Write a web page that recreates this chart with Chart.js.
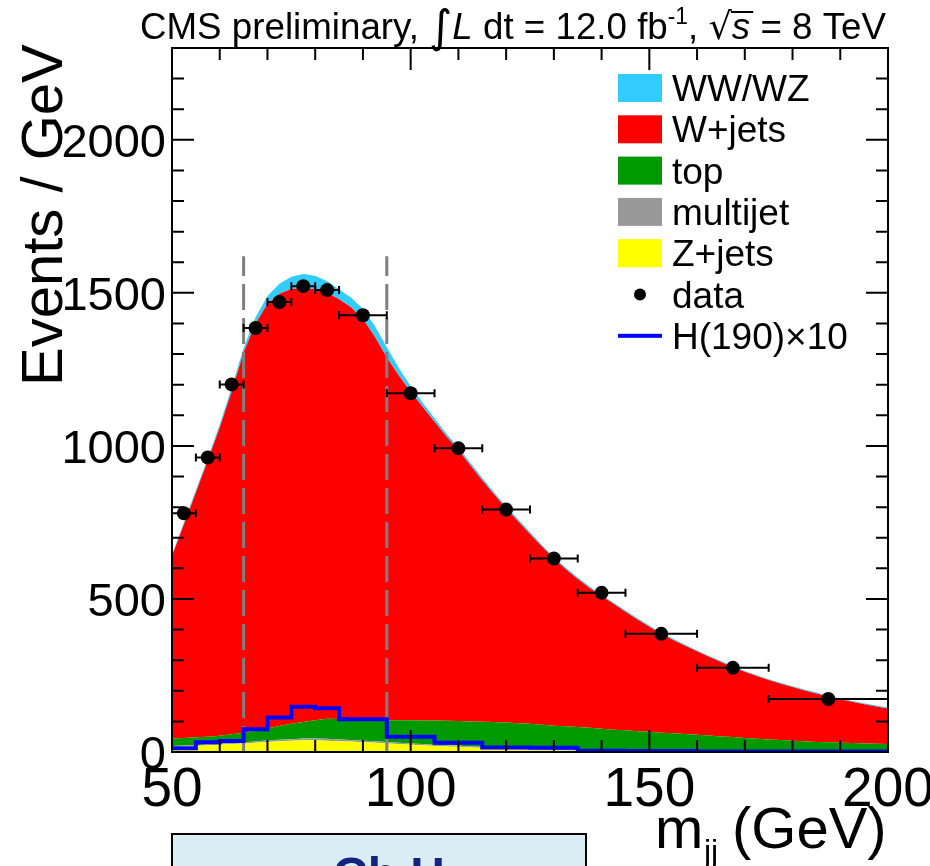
<!DOCTYPE html>
<html>
<head>
<meta charset="utf-8">
<script src="https://cdn.jsdelivr.net/npm/chart.js@4.4.0/dist/chart.umd.min.js"></script>
<style>
    html, body { margin: 0; padding: 0; background: #fff; }
    #contenedor { width: 930px; height: 866px; position: relative; }
</style>
</head>
<body>
<div id="contenedor"><canvas id="grafico-mjj"></canvas></div>
<script>
// Bins finos para el fondo apilado (GeV)
const mjj = [50, 52.5, 55, 57.5, 60, 62.5, 65, 67.5, 70, 72.5, 75, 77.5, 80, 82.5, 85, 87.5, 90, 92.5, 95, 97.5,
    100, 102.5, 105, 107.5, 110, 112.5, 115, 117.5, 120, 122.5, 125, 127.5, 130, 132.5, 135, 137.5, 140, 142.5, 145, 147.5,
    150, 152.5, 155, 157.5, 160, 162.5, 165, 167.5, 170, 172.5, 175, 177.5, 180, 182.5, 185, 187.5, 190, 192.5, 195, 197.5, 200];

// Contribuciones (eventos / GeV), de abajo hacia arriba
const zjets = [18, 19, 20, 22, 24, 26, 28, 30, 33, 35, 37, 38, 38, 37, 35, 34, 32, 30, 28, 26,
    24, 22, 20, 18, 17, 15, 14, 12, 11, 9, 8, 7, 6, 5, 5, 4, 4, 3, 3, 3,
    3, 2, 2, 2, 2, 2, 2, 2, 1, 1, 1, 1, 1, 1, 1, 1, 1, 1, 1, 1, 1];
const multijet = [2, 2, 2, 3, 3, 3, 4, 4, 5, 5, 5, 6, 6, 6, 6, 5, 5, 5, 5, 4,
    4, 4, 4, 4, 4, 3, 3, 3, 3, 3, 3, 3, 3, 3, 2, 2, 2, 2, 2, 2,
    2, 2, 2, 2, 2, 2, 2, 1, 1, 1, 1, 1, 1, 1, 1, 1, 1, 1, 1, 1, 1];
const top_ = [24, 25, 26, 25, 26, 29, 31, 36, 39, 45, 50, 54, 60, 66, 67, 67, 68, 70, 71, 74,
    76, 77, 79, 80, 80, 82, 82, 83, 82, 82, 81, 79, 77, 76, 75, 73, 70, 68, 66, 63,
    61, 59, 57, 55, 52, 50, 47, 46, 44, 41, 39, 37, 35, 33, 31, 30, 28, 27, 26, 25, 24];
const wjets = [596, 698, 800, 902, 1007, 1120, 1242, 1330, 1387, 1412, 1421, 1418, 1408, 1391, 1371, 1347, 1310, 1252, 1185, 1126,
    1073, 1025, 976, 929, 886, 837, 789, 743, 700, 660, 620, 582, 546, 513, 483, 457, 434, 411, 387, 365,
    343, 323, 305, 288, 273, 257, 243, 228, 216, 205, 194, 184, 175, 166, 158, 149, 142, 135, 128, 122, 116];
const wwwz = [5, 6, 7, 8, 10, 12, 15, 20, 26, 33, 40, 46, 44, 38, 33, 32, 33, 35, 33, 25,
    18, 14, 11, 9, 8, 8, 7, 7, 6, 6, 6, 5, 5, 5, 5, 5, 4, 4, 4, 4,
    4, 4, 4, 3, 3, 3, 3, 3, 3, 3, 3, 3, 3, 3, 3, 3, 3, 3, 3, 3, 3];

// Bins de datos y de la señal
const binBajo = [50, 55, 60, 65, 70, 75, 80, 85, 95, 105, 115, 125, 135, 145, 160, 175];
const binAlto = [55, 60, 65, 70, 75, 80, 85, 95, 105, 115, 125, 135, 145, 160, 175, 200];
const datos = [780, 962, 1201, 1385, 1470, 1522, 1509, 1427, 1172, 992, 792, 632, 520, 386, 275, 173];
const higgs = [12, 32, 36, 74, 113, 148, 143, 107, 50, 30, 15, 14, 4, 3, 2, 2];

// Ventana de señal y ejes
const cortes = [65, 95];
const alturaCortes = 1620;
const ticksX = [50, 100, 150, 200];
const ticksY = [0, 500, 1000, 1500, 2000];

const colores = {
    wwwz: '#33ccff',
    wjets: '#ff0000',
    top: '#009900',
    multijet: '#999999',
    zjets: '#ffff00',
    higgs: '#0000ff'
};
const fuente = "'Liberation Sans', Arial, Helvetica, sans-serif";

const centros = binBajo.map((b, i) => (b + binAlto[i]) / 2);
const puntos = serie => serie.map((v, i) => ({ x: mjj[i], y: v }));

function capa(etiqueta, serie, color, relleno) {
    return {
        label: etiqueta,
        data: puntos(serie),
        stack: 'mc',
        order: 2,
        borderWidth: 0,
        pointRadius: 0,
        backgroundColor: color,
        fill: relleno
    };
}

// Dibuja texto por trozos (superíndices, cursiva...)
function textoCompuesto(ctx, trozos, x, y, medir) {
    let ancho = 0;
    trozos.forEach(t => {
        ctx.font = t.font;
        const w = ctx.measureText(t.text).width;
        if (!medir) {
            ctx.fillText(t.text, x + ancho, y + (t.dy || 0));
            if (t.raya) {
                ctx.fillRect(x + ancho - 1, y - 28, w + 4, 2);
            }
        }
        ancho += w;
    });
    return ancho;
}

const decoracion = {
    id: 'decoracion',
    beforeDatasetsDraw(chart) {
        const { ctx, scales: { x, y } } = chart;
        ctx.save();
        ctx.strokeStyle = '#7f7f7f';
        ctx.lineWidth = 3;
        ctx.setLineDash([26, 8]);
        cortes.forEach(c => {
            const px = x.getPixelForValue(c);
            ctx.beginPath();
            ctx.moveTo(px, y.getPixelForValue(0));
            ctx.lineTo(px, y.getPixelForValue(alturaCortes));
            ctx.stroke();
        });
        ctx.restore();
    },
    afterDatasetsDraw(chart) {
        const { ctx, scales: { x, y } } = chart;
        ctx.save();
        ctx.strokeStyle = '#000';
        ctx.lineWidth = 2;
        datos.forEach((v, i) => {
            const py = y.getPixelForValue(v);
            const x1 = x.getPixelForValue(binBajo[i]);
            const x2 = x.getPixelForValue(binAlto[i]);
            ctx.beginPath();
            ctx.moveTo(x1, py); ctx.lineTo(x2, py);
            ctx.moveTo(x1, py - 4); ctx.lineTo(x1, py + 4);
            ctx.moveTo(x2, py - 4); ctx.lineTo(x2, py + 4);
            ctx.stroke();
        });
        ctx.restore();
    },
    afterDraw(chart) {
        const { ctx, chartArea: a, scales: { x, y } } = chart;
        ctx.save();

        // Marco y marcas hacia dentro
        ctx.strokeStyle = '#000';
        ctx.lineWidth = 2;
        ctx.strokeRect(a.left, a.top, a.right - a.left, a.bottom - a.top);
        ctx.beginPath();
        for (let v = 50; v <= 200; v += 10) {
            const px = x.getPixelForValue(v);
            const largo = v % 50 === 0 ? 22 : 12;
            ctx.moveTo(px, a.bottom); ctx.lineTo(px, a.bottom - largo);
            ctx.moveTo(px, a.top); ctx.lineTo(px, a.top + largo);
        }
        for (let v = 0; v <= 2300; v += 100) {
            const py = y.getPixelForValue(v);
            const largo = v % 500 === 0 ? 22 : 12;
            ctx.moveTo(a.left, py); ctx.lineTo(a.left + largo, py);
            ctx.moveTo(a.right, py); ctx.lineTo(a.right - largo, py);
        }
        ctx.stroke();

        // Etiquetas de los ejes
        ctx.fillStyle = '#000';
        ctx.font = '47px ' + fuente;
        ctx.textAlign = 'right';
        ctx.textBaseline = 'alphabetic';
        ticksY.forEach(v => ctx.fillText(String(v), a.left - 6, y.getPixelForValue(v) + 17));
        ctx.font = '55px ' + fuente;
        ctx.textAlign = 'center';
        ticksX.forEach(v => ctx.fillText(String(v), x.getPixelForValue(v), 806));

        ctx.textAlign = 'left';
        ctx.save();
        ctx.translate(62, 386);
        ctx.rotate(-Math.PI / 2);
        ctx.font = '58px ' + fuente;
        ctx.fillText('Events / GeV', 0, 0);
        ctx.restore();

        ctx.font = '58px ' + fuente;
        ctx.fillText('m', 655, 848);
        ctx.font = '32px ' + fuente;
        ctx.fillText('jj', 704, 862);
        ctx.font = '58px ' + fuente;
        ctx.fillText('(GeV)', 732, 848);

        // Título
        const f = 37;
        const trozos = [
            { text: 'CMS preliminary, ', font: `${f}px ${fuente}` },
            { text: '\u222B', font: `${f + 8}px 'DejaVu Sans', ${fuente}`, dy: 3 },
            { text: 'L', font: `italic ${f}px ${fuente}` },
            { text: ' dt = 12.0 fb', font: `${f}px ${fuente}` },
            { text: '-1', font: `${Math.round(f * 0.62)}px ${fuente}`, dy: -15 },
            { text: ', ', font: `${f}px ${fuente}` },
            { text: '\u221A', font: `${f}px 'DejaVu Sans', ${fuente}` },
            { text: 's', font: `italic ${f}px ${fuente}`, raya: true },
            { text: ' = 8 TeV', font: `${f}px ${fuente}` }
        ];
        const anchoTitulo = textoCompuesto(ctx, trozos, 0, 0, true);
        ctx.save();
        ctx.translate(140, 39);
        ctx.scale(746 / anchoTitulo, 1);
        textoCompuesto(ctx, trozos, 0, 0, false);
        ctx.restore();

        // Leyenda
        const filas = [
            { t: 'WW/WZ', c: colores.wwwz },
            { t: 'W+jets', c: colores.wjets },
            { t: 'top', c: colores.top },
            { t: 'multijet', c: colores.multijet },
            { t: 'Z+jets', c: colores.zjets },
            { t: 'data', tipo: 'punto' },
            { t: 'H(190)\u00D710', tipo: 'linea' }
        ];
        ctx.font = '37px ' + fuente;
        filas.forEach((fila, i) => {
            const cy = 88 + i * 41.3;
            if (fila.tipo === 'punto') {
                ctx.fillStyle = '#000';
                ctx.beginPath();
                ctx.arc(640, cy, 6, 0, Math.PI * 2);
                ctx.fill();
            } else if (fila.tipo === 'linea') {
                ctx.fillStyle = colores.higgs;
                ctx.fillRect(618, cy - 2, 44, 4);
            } else {
                ctx.fillStyle = fila.c;
                ctx.fillRect(618, cy - 14, 44, 28);
            }
            ctx.fillStyle = '#000';
            ctx.fillText(fila.t, 672, cy + 13);
        });

        // Recuadro inferior (recortado)
        ctx.fillStyle = '#dbedf4';
        ctx.fillRect(172, 834, 414, 40);
        ctx.strokeStyle = '#000';
        ctx.lineWidth = 2;
        ctx.strokeRect(172, 834, 414, 40);
        ctx.fillStyle = '#13237f';
        ctx.font = 'bold 48px ' + fuente;
        ctx.fillText('Ch H', 333, 891);

        ctx.restore();
    }
};

const ctx = document.getElementById('grafico-mjj');

new Chart(ctx, {
    type: 'line',
    data: {
        datasets: [
            capa('Z+jets', zjets, colores.zjets, 'origin'),
            capa('multijet', multijet, colores.multijet, '-1'),
            capa('top', top_, colores.top, '-1'),
            capa('W+jets', wjets, colores.wjets, '-1'),
            capa('WW/WZ', wwwz, colores.wwwz, '-1'),
            {
                label: 'H(190)×10',
                data: binBajo.map((b, i) => ({ x: b, y: higgs[i] })).concat([{ x: binAlto[binAlto.length - 1], y: higgs[higgs.length - 1] }]),
                stack: 'higgs',
                order: 1,
                stepped: 'before',
                borderColor: colores.higgs,
                borderWidth: 4,
                pointRadius: 0,
                fill: false
            },
            {
                label: 'data',
                data: centros.map((c, i) => ({ x: c, y: datos[i] })),
                stack: 'datos',
                order: 0,
                showLine: false,
                pointRadius: 7,
                pointBackgroundColor: '#000',
                pointBorderColor: '#000',
                pointBorderWidth: 0,
                fill: false
            }
        ]
    },
    options: {
        responsive: true,
        maintainAspectRatio: false,
        animation: false,
        layout: { padding: { left: 172, right: 42, top: 48, bottom: 114 } },
        plugins: {
            legend: { display: false },
            tooltip: { enabled: false },
            filler: { drawTime: 'beforeDatasetsDraw' }
        },
        scales: {
            x: { type: 'linear', min: 50, max: 200, display: false },
            y: { min: 0, max: 2300, stacked: true, display: false }
        }
    },
    plugins: [decoracion]
});
</script>
</body>
</html>
